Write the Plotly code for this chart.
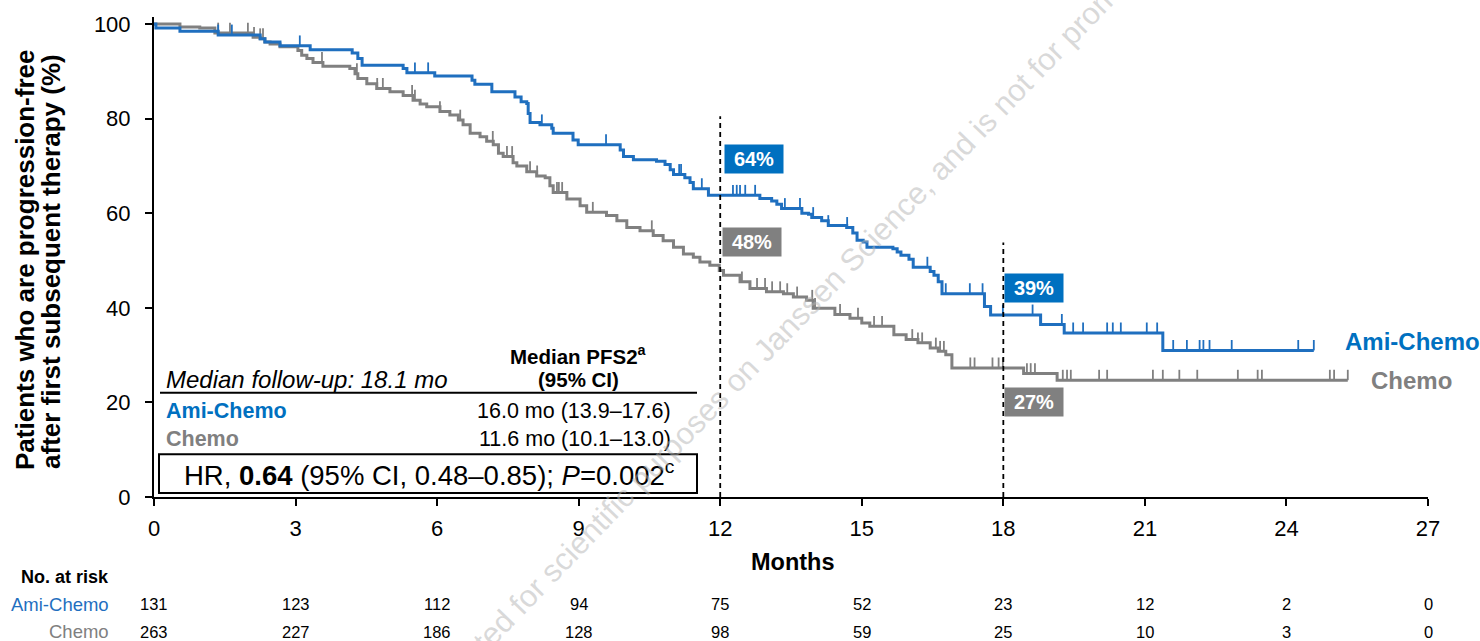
import plotly.graph_objects as go

# ---------------- data ----------------
month_ticks = [0, 3, 6, 9, 12, 15, 18, 21, 24, 27]
pct_ticks = [0, 20, 40, 60, 80, 100]

risk_ami = [131, 123, 112, 94, 75, 52, 23, 12, 2, 0]
risk_chemo = [263, 227, 186, 128, 98, 59, 25, 10, 3, 0]

ami_times = [0.04, 0.55, 1.36, 2.25, 2.35, 2.67, 3.31, 4.20, 4.32, 4.41, 5.28, 5.36, 5.95,
             6.74, 6.80, 7.16, 7.65, 7.78, 7.90, 7.93, 7.97, 8.18, 8.43, 8.46, 8.88, 8.99,
             9.88, 9.95, 10.16, 10.65, 10.83, 10.94, 11.01, 11.25, 11.36, 11.43, 11.75,
             12.84, 13.09, 13.20, 13.30, 13.73, 13.87, 13.94, 14.15, 14.29, 14.68, 14.81,
             14.90, 15.03, 15.11, 15.66, 15.75, 15.83, 16.00, 16.09, 16.45, 16.53, 16.62,
             16.70, 17.60, 17.73, 18.79, 19.29, 21.38]
ami_surv = [99.2, 98.5, 97.7, 96.9, 96.2, 95.4, 94.6, 93.9, 92.7, 91.3, 90.6, 89.7, 89.0,
            88.1, 87.3, 85.7, 84.6, 83.6, 83.2, 81.1, 79.2, 78.7, 78.0, 76.9, 75.5, 74.5,
            73.4, 72.0, 71.3, 71.0, 70.3, 69.2, 68.2, 67.5, 66.5, 65.2, 63.8,
            63.1, 62.6, 61.9, 61.0, 60.0, 59.8, 59.1, 58.4, 57.4, 57.0, 55.8,
            54.3, 53.9, 52.8, 52.5, 51.8, 51.1, 50.3, 48.6, 47.7, 46.9, 45.5,
            43.0, 40.3, 38.5, 36.5, 34.7, 31.0]
ami_end = 24.58
ami_censor = [1.36, 1.65, 3.09, 5.53, 5.81, 8.22, 9.58, 11.13, 11.17, 11.61, 12.27, 12.35,
              12.42, 12.53, 12.74, 13.37, 13.69, 13.97, 14.29, 14.69, 16.39, 16.78, 17.29,
              17.56, 17.99, 18.62, 19.24, 19.48, 19.69, 20.20, 20.32, 20.49, 21.04, 21.26,
              21.60, 21.89, 22.16, 22.24, 22.37, 22.84, 24.25, 24.58]

chemo_times = [0.55, 0.97, 1.29, 2.10, 2.25, 2.35, 2.46, 2.67, 3.05, 3.13, 3.24, 3.37, 3.58,
               4.15, 4.26, 4.32, 4.51, 4.72, 5.00, 5.28, 5.49, 5.64, 5.78, 6.06, 6.27, 6.45,
               6.55, 6.70, 6.91, 7.05, 7.19, 7.30, 7.40, 7.61, 7.69, 7.90, 8.11, 8.29, 8.39,
               8.46, 8.75, 9.03, 9.17, 9.59, 9.81, 10.02, 10.30, 10.58, 10.79, 11.01, 11.22,
               11.43, 11.57, 11.78, 11.98, 12.07, 12.42, 12.63, 12.98, 13.34, 13.55, 13.83,
               13.97, 14.43, 14.75, 15.00, 15.17, 15.68, 15.94, 16.19, 16.45, 16.62, 16.78,
               16.91, 18.43, 19.14]
chemo_surv = [99.4, 99.2, 98.1, 97.2, 96.9, 96.2, 95.8, 95.2, 94.4, 93.4, 92.7, 91.9, 91.1,
              90.6, 89.5, 88.5, 87.4, 86.4, 85.7, 84.9, 83.9, 83.1, 82.5, 81.5, 80.8, 79.7,
              78.7, 76.9, 76.2, 75.2, 74.5, 72.7, 72.0, 70.7, 70.0, 68.8, 67.9, 67.5, 65.8,
              64.4, 63.0, 61.6, 60.2, 59.5, 58.4, 57.0, 56.3, 55.3, 54.2, 52.8, 51.4,
              50.7, 49.7, 49.0, 47.9, 46.9, 45.5, 44.1, 43.4, 43.0, 42.3, 41.6,
              39.9, 38.6, 37.8, 36.8, 36.1, 34.3, 33.3, 32.6, 31.5, 30.8, 30.1,
              27.3, 26.1, 24.7]
chemo_end = 25.30
chemo_censor = [1.36, 1.61, 1.99, 2.12, 2.25, 2.31, 3.56, 4.30, 4.73, 4.85, 5.47, 5.53, 6.06,
                6.49, 7.18, 7.48, 7.59, 7.97, 8.12, 8.54, 8.58, 8.65, 9.30, 10.55, 12.46,
                12.78, 12.95, 13.10, 13.27, 13.42, 13.63, 13.95, 14.01, 14.54, 14.92, 15.26,
                15.43, 16.07, 16.19, 16.28, 16.57, 16.66, 16.74, 17.30, 17.39, 17.77, 17.90,
                17.99, 18.50, 18.58, 18.67, 19.26, 19.35, 19.43, 20.03, 20.20, 21.17, 21.38,
                21.73, 22.11, 22.97, 23.39, 23.48, 24.92, 25.01, 25.30]

landmarks = [12, 18]
ami_landmark_labels = ["64%", "39%"]
chemo_landmark_labels = ["48%", "27%"]

# ---------------- style ----------------
BLUE = "#1f6fbf"
BOXBLUE = "#0070c0"
GRAY = "#808080"
FONT = "Liberation Sans, Arial, Helvetica, sans-serif"

W, H = 1480, 641
L, R, T, B = 154, 52, 13, 144


def px(x):
    return (x - L) / (W - L - R)


def py(y):
    return (H - B - y) / (H - T - B)


def step_value(times, surv, t):
    v = 100.0
    for ti, si in zip(times, surv):
        if ti <= t:
            v = si
        else:
            break
    return v


def censor_segments(times, surv, cens, h=2.2):
    xs, ys = [], []
    for c in cens:
        v = step_value(times, surv, c)
        xs += [c, c, None]
        ys += [v, v + h, None]
    return xs, ys


fig = go.Figure()

for times, surv, end, cens, col, name in [
    (chemo_times, chemo_surv, chemo_end, chemo_censor, GRAY, "Chemo"),
    (ami_times, ami_surv, ami_end, ami_censor, BLUE, "Ami-Chemo"),
]:
    fig.add_trace(go.Scatter(
        x=[0] + times + [end], y=[100] + surv + [surv[-1]],
        mode="lines", line=dict(color=col, width=3, shape="hv"),
        name=name, showlegend=False, hoverinfo="skip"))
    cx, cy = censor_segments(times, surv, cens)
    fig.add_trace(go.Scatter(
        x=cx, y=cy, mode="lines", line=dict(color=col, width=1.8),
        showlegend=False, hoverinfo="skip"))

ann = []


def txt(x, y, text, size, color="black", xanchor="center", **kw):
    d = dict(x=px(x), y=py(y), xref="paper", yref="paper", text=text, showarrow=False,
             xanchor=xanchor, yanchor="middle",
             font=dict(family=FONT, size=size, color=color))
    d.update(kw)
    ann.append(d)


# landmark dashed lines
for lm, top in zip(landmarks, [80.5, 53.8]):
    fig.add_shape(type="line", xref="x", yref="y", x0=lm, x1=lm, y0=0, y1=top,
                  line=dict(color="black", width=1.8, dash="5px,4px"))

# landmark labels
lab_pos = [(754, 156, BOXBLUE, ami_landmark_labels[0]),
           (752, 239.5, GRAY, chemo_landmark_labels[0]),
           (1034, 286, BOXBLUE, ami_landmark_labels[1]),
           (1034, 401.5, GRAY, chemo_landmark_labels[1])]
for x, y, c, t in lab_pos:
    txt(x, y, "<b>%s</b>" % t, 20, "white", bgcolor=c, width=54, height=24, borderpad=2)

# curve end labels
txt(1343, 340, "<b>Ami-Chemo</b>", 24, BOXBLUE, xanchor="left")
txt(1369, 380, "<b>Chemo</b>", 24, GRAY, xanchor="left")

# inset table
txt(164, 379, "<i>Median follow-up: 18.1 mo</i>", 24, xanchor="left")
txt(578, 354, "<b>Median PFS2<sup>a</sup></b>", 20.5)
txt(578, 379, "<b>(95% CI)</b>", 20.5)
fig.add_shape(type="line", xref="paper", yref="paper", x0=px(160), x1=px(697),
              y0=py(392), y1=py(392), line=dict(color="black", width=2))
txt(164, 410, "<b>Ami-Chemo</b>", 21.5, BOXBLUE, xanchor="left")
txt(673, 410, "16.0 mo (13.9–17.6)", 21.5, xanchor="right")
txt(164, 439, "<b>Chemo</b>", 21.5, GRAY, xanchor="left")
txt(673, 439, "11.6 mo (10.1–13.0)", 21.5, xanchor="right")
fig.add_shape(type="rect", xref="paper", yref="paper", x0=px(159), x1=px(697),
              y0=py(493), y1=py(454), line=dict(color="black", width=2),
              fillcolor="white", layer="below")
txt(429, 473, "HR, <b>0.64</b> (95% CI, 0.48–0.85); <i>P</i>=0.002<sup>c</sup>", 27.5)

# axis titles
txt(793, 563, "<b>Months</b>", 23.5)
txt(25, 258, "<b>Patients who are progression-free</b>", 26, textangle=-90)
txt(51, 260, "<b>after first subsequent therapy (%)</b>", 26, textangle=-90)

# number at risk
txt(111, 578, "<b>No. at risk</b>", 18, xanchor="right")
txt(111, 605, "Ami-Chemo", 18.5, BLUE, xanchor="right")
txt(111, 633, "Chemo", 18.5, GRAY, xanchor="right")
for m, a, c in zip(month_ticks, risk_ami, risk_chemo):
    for val, yy in [(a, 605), (c, 633)]:
        ann.append(dict(x=m, y=py(yy), xref="x", yref="paper", text=str(val),
                        showarrow=False, xanchor="center", yanchor="middle",
                        font=dict(family=FONT, size=16.5, color="black")))

# watermark
txt(814, 298, "distributed for scientific purposes on Janssen Science, and is not for promotional use",
    31, "rgba(180,180,180,0.5)", textangle=-46)

fig.update_layout(
    width=W, height=H,
    margin=dict(l=L, r=R, t=T, b=B, pad=0),
    paper_bgcolor="white", plot_bgcolor="white",
    showlegend=False,
    annotations=ann,
    xaxis=dict(range=[0, 27], tickvals=month_ticks, ticks="outside", ticklen=7,
               tickwidth=2, tickcolor="black", showline=True, linecolor="black",
               linewidth=2, showgrid=False, zeroline=False, ticklabelstandoff=4,
               tickfont=dict(family=FONT, size=22, color="black")),
    yaxis=dict(range=[0, 101.5], tickvals=pct_ticks, ticks="outside", ticklen=7,
               tickwidth=2, tickcolor="black", showline=True, linecolor="black",
               linewidth=2, showgrid=False, zeroline=False, ticklabelstandoff=10,
               tickfont=dict(family=FONT, size=22, color="black")),
)

fig.write_html("out.html", config={"displayModeBar": False},
               post_script="document.body.style.margin='0';")
